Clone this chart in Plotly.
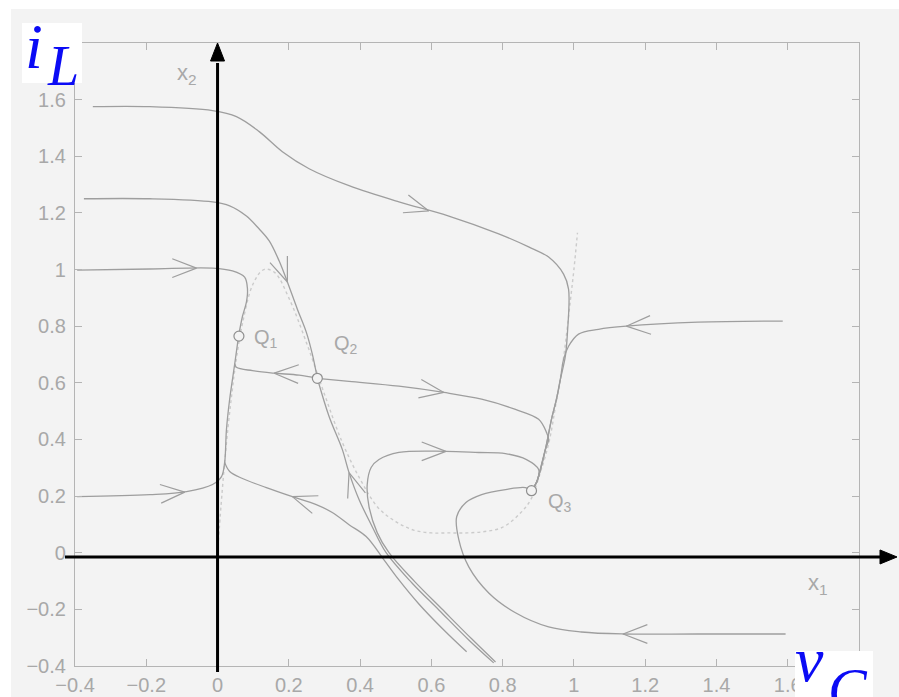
import math
import plotly.graph_objects as go

# ---------------- data ----------------
x_tick_vals = [-0.4, -0.2, 0.0, 0.2, 0.4, 0.6, 0.8, 1.0, 1.2, 1.4, 1.6]
x_tick_text = ["\u22120.4", "\u22120.2", "0", "0.2", "0.4", "0.6", "0.8", "1", "1.2", "1.4", "1.6"]
y_tick_vals = [-0.4, -0.2, 0.0, 0.2, 0.4, 0.6, 0.8, 1.0, 1.2, 1.4, 1.6]
y_tick_text = ["\u22120.4", "\u22120.2", "0", "0.2", "0.4", "0.6", "0.8", "1", "1.2", "1.4", "1.6"]

# dotted curve (diode characteristic)
h_x = [0.0, 0.01, 0.02, 0.03, 0.04, 0.05, 0.07, 0.10, 0.13, 0.16, 0.20, 0.25, 0.30, 0.35, 0.40,
       0.45, 0.50, 0.55, 0.60, 0.65, 0.70, 0.75, 0.80, 0.85, 0.88, 0.90, 0.93, 0.95, 0.97, 0.99,
       1.00, 1.01]
h_y = [0.0, 0.17, 0.32, 0.45, 0.56, 0.66, 0.81, 0.95, 1.00, 0.99, 0.90, 0.74, 0.56, 0.39, 0.26,
       0.16, 0.11, 0.08, 0.07, 0.07, 0.07, 0.075, 0.09, 0.14, 0.19, 0.26, 0.39, 0.53, 0.68, 0.89,
       1.00, 1.13]

# trajectories
traj_top_x = [-0.35, -0.19, -0.014, 0.053, 0.117, 0.182, 0.257, 0.369, 0.509, 0.649, 0.789, 0.873,
              0.929, 0.971, 0.985, 0.982, 0.976, 0.962, 0.951, 0.937, 0.920, 0.895, 0.881]
traj_top_y = [1.575, 1.575, 1.561, 1.540, 1.487, 1.416, 1.356, 1.296, 1.239, 1.189, 1.126, 1.080,
              1.044, 0.984, 0.931, 0.779, 0.694, 0.612, 0.542, 0.471, 0.365, 0.248, 0.219]

traj_125_x = [-0.375, -0.19, -0.014, 0.034, 0.081, 0.117, 0.145, 0.173, 0.196, 0.224, 0.249, 0.266, 0.280]
traj_125_y = [1.25, 1.25, 1.239, 1.225, 1.189, 1.143, 1.101, 1.030, 0.956, 0.860, 0.779, 0.701, 0.616]

traj_100_x = [-0.394, -0.19, -0.014, 0.042, 0.076, 0.084, 0.081, 0.070, 0.059]
traj_100_y = [0.998, 1.002, 1.005, 0.995, 0.973, 0.931, 0.885, 0.835, 0.765]

traj_020_x = [-0.394, -0.19, -0.087, -0.014, 0.011, 0.020, 0.025, 0.034, 0.048, 0.059]
traj_020_y = [0.198, 0.205, 0.216, 0.241, 0.269, 0.319, 0.435, 0.542, 0.665, 0.765]

traj_l3_x = [0.699, 0.635, 0.565, 0.509, 0.467, 0.417, 0.369, 0.322, 0.277, 0.210, 0.137, 0.070, 0.034, 0.020]
traj_l3_y = [-0.350, -0.273, -0.181, -0.096, -0.025, 0.057, 0.099, 0.142, 0.170, 0.198, 0.230, 0.262, 0.287, 0.319]

traj_sq2_x = [0.775, 0.705, 0.621, 0.545, 0.473, 0.434, 0.397, 0.369, 0.350, 0.313, 0.280]
traj_sq2_y = [-0.389, -0.308, -0.202, -0.106, 0.000, 0.092, 0.188, 0.283, 0.365, 0.481, 0.616]

traj_arc_x = [0.780, 0.713, 0.629, 0.554, 0.481, 0.448, 0.425, 0.420, 0.431, 0.453, 0.509, 0.641,
              0.733, 0.808, 0.867, 0.901, 0.898, 0.881]
traj_arc_y = [-0.386, -0.304, -0.198, -0.103, 0.000, 0.071, 0.163, 0.241, 0.301, 0.329, 0.354, 0.358,
              0.354, 0.350, 0.329, 0.294, 0.258, 0.219]

traj_uq2l_x = [0.280, 0.229, 0.159, 0.098, 0.053, 0.048]
traj_uq2l_y = [0.616, 0.627, 0.634, 0.643, 0.655, 0.668]

traj_uq2r_x = [0.280, 0.369, 0.509, 0.635, 0.741, 0.836, 0.901, 0.923, 0.929, 0.920, 0.909, 0.895, 0.881]
traj_uq2r_y = [0.616, 0.605, 0.588, 0.566, 0.542, 0.506, 0.471, 0.425, 0.400, 0.365, 0.312, 0.248, 0.219]

traj_right_x = [1.586, 1.348, 1.147, 1.069, 1.013, 0.985, 0.971, 0.962, 0.951, 0.937, 0.920, 0.895, 0.881]
traj_right_y = [0.818, 0.814, 0.800, 0.789, 0.772, 0.729, 0.683, 0.612, 0.542, 0.471, 0.365, 0.248, 0.219]

traj_br_x = [1.594, 1.348, 1.138, 1.021, 0.929, 0.836, 0.761, 0.705, 0.677, 0.671, 0.697, 0.741, 0.808, 0.864, 0.881]
traj_br_y = [-0.287, -0.287, -0.287, -0.280, -0.262, -0.212, -0.142, -0.050, 0.046, 0.127, 0.177, 0.205, 0.223, 0.230, 0.219]

trajectories = [
    (traj_top_x, traj_top_y), (traj_125_x, traj_125_y), (traj_100_x, traj_100_y),
    (traj_020_x, traj_020_y), (traj_l3_x, traj_l3_y), (traj_sq2_x, traj_sq2_y),
    (traj_arc_x, traj_arc_y), (traj_uq2l_x, traj_uq2l_y), (traj_uq2r_x, traj_uq2r_y),
    (traj_right_x, traj_right_y), (traj_br_x, traj_br_y),
]

# arrow tips on trajectories: x, y, direction (degrees, screen: 0 = right, 90 = up)
arrow_x = [0.593, 0.196, -0.059, -0.092, 0.159, 0.635, 0.210, 0.369, 0.641, 1.147, 1.138]
arrow_y = [1.207, 0.956, 1.005, 0.214, 0.634, 0.566, 0.198, 0.283, 0.358, 0.800, -0.287]
arrow_dir = [-17, -69, 0, 4, 178, -9, 161, 108, 0, 183, 180]

# equilibrium points
q_x = [0.060, 0.280, 0.881]
q_y = [0.765, 0.616, 0.219]
q_labels = ["Q<sub>1</sub>", "Q<sub>2</sub>", "Q<sub>3</sub>"]

# ---------------- layout constants ----------------
W, H = 899, 697
ML, MR, MT, MB = 75, 40, 43, 31
X0, X1 = -0.4, 1.8
Y0, Y1 = -0.4, 1.8
PW, PH = W - ML - MR, H - MT - MB
SX, SY = PW / (X1 - X0), PH / (Y1 - Y0)


def px_paper(px, py):
    """screen pixel -> paper coords"""
    return (px - ML) / PW, (MT + PH - py) / PH


def data_paper(x, y):
    return (x - X0) / (X1 - X0), (y - Y0) / (Y1 - Y0)


LINE = "#9e9e9e"
TXT = "#a8a8a8"
BG = "#f3f3f3"
BLUE = "#0b0bf5"

fig = go.Figure()

fig.add_trace(go.Scatter(x=h_x, y=h_y, mode="lines", line=dict(color="#cbcbcb", width=1.4, dash="dot"),
                         line_shape="spline", hoverinfo="skip", showlegend=False))

for tx, ty in trajectories:
    fig.add_trace(go.Scatter(x=tx, y=ty, mode="lines", line=dict(color=LINE, width=1.3),
                             line_shape="spline", hoverinfo="skip", showlegend=False))

# open chevron arrowheads
L_ARR, HALF = 26, 21
cx, cy = [], []
for ax_, ay_, d in zip(arrow_x, arrow_y, arrow_dir):
    pts = []
    for s in (1, -1):
        phi = math.radians(d + 180 + s * HALF)
        pts.append((ax_ + L_ARR * math.cos(phi) / SX, ay_ + L_ARR * math.sin(phi) / SY))
    cx += [pts[0][0], ax_, pts[1][0], None]
    cy += [pts[0][1], ay_, pts[1][1], None]
fig.add_trace(go.Scatter(x=cx, y=cy, mode="lines", line=dict(color=LINE, width=1.2),
                         hoverinfo="skip", showlegend=False))

fig.add_trace(go.Scatter(x=q_x, y=q_y, mode="markers",
                         marker=dict(symbol="circle", size=10, color=BG, line=dict(color="#8f8f8f", width=1.2)),
                         hoverinfo="skip", showlegend=False))

annotations = []
q_off = [(0.038, -0.01), (0.042, 0.12), (0.042, -0.04)]
for qx, qy, lab, (ox, oy) in zip(q_x, q_y, q_labels, q_off):
    annotations.append(dict(x=qx + ox, y=qy + oy, xref="x", yref="y", text=lab, showarrow=False,
                            xanchor="left", yanchor="middle",
                            font=dict(family="Liberation Sans", size=20, color=TXT)))

annotations.append(dict(x=-0.118, y=1.69, xref="x", yref="y", text="x<sub>2</sub>", showarrow=False,
                        xanchor="left", yanchor="middle", font=dict(family="Liberation Sans", size=22, color=TXT)))
annotations.append(dict(x=1.652, y=-0.11, xref="x", yref="y", text="x<sub>1</sub>", showarrow=False,
                        xanchor="left", yanchor="middle", font=dict(family="Liberation Sans", size=22, color=TXT)))


def lab(px, py, text, size, xanchor="left", yanchor="middle"):
    x, y = px_paper(px, py)
    return dict(x=x, y=y, xref="paper", yref="paper", text=text, showarrow=False,
                xanchor=xanchor, yanchor=yanchor, borderpad=0,
                font=dict(family="Liberation Serif", size=size, color=BLUE))


annotations += [lab(44, 47, "<i>i</i>", 64, xanchor="right"), lab(46, 66, "<i>L</i>", 56),
                lab(825, 659, "<i>v</i>", 64, xanchor="right"), lab(827, 688, "<i>C</i>", 58)]

shapes = []


def rect(px0, py0, px1, py1, color):
    x0, y0 = px_paper(px0, py1)
    x1, y1 = px_paper(px1, py0)
    return dict(type="rect", xref="paper", yref="paper", x0=x0, y0=y0, x1=x1, y1=y1,
                fillcolor=color, line=dict(width=0), layer="above")


shapes += [rect(0, 0, W, 9, "white"), rect(0, 0, 11, H, "white"),
           rect(22, 23, 82, 83, "white"), rect(795, 651, 873, H, "white")]

# black overlay axes (line + filled head)
_, hy_pp = data_paper(0, -0.015)
hx_tail, _ = px_paper(65, 0)
hx_base, _ = px_paper(880, 0)
hx_tip, _ = px_paper(897, 0)
dy7 = 7 / PH
shapes.append(dict(type="line", xref="paper", yref="paper", x0=hx_tail, x1=hx_base + 2 / PW,
                   y0=hy_pp, y1=hy_pp, line=dict(color="black", width=3), layer="above"))
shapes.append(dict(type="path", xref="paper", yref="paper", layer="above",
                   path=f"M{hx_base},{hy_pp - dy7} L{hx_tip},{hy_pp} L{hx_base},{hy_pp + dy7} Z",
                   fillcolor="black", line=dict(color="black", width=1)))

vx_pp, _ = data_paper(0, 0)
_, vy_tail = px_paper(0, 672)
_, vy_base = px_paper(0, 61)
_, vy_tip = px_paper(0, 43)
dx7 = 7 / PW
shapes.append(dict(type="line", xref="paper", yref="paper", x0=vx_pp, x1=vx_pp,
                   y0=vy_tail, y1=vy_base - 2 / PH, line=dict(color="black", width=3), layer="above"))
shapes.append(dict(type="path", xref="paper", yref="paper", layer="above",
                   path=f"M{vx_pp - dx7},{vy_base} L{vx_pp},{vy_tip} L{vx_pp + dx7},{vy_base} Z",
                   fillcolor="black", line=dict(color="black", width=1)))

axis_common = dict(showgrid=False, zeroline=False, showline=True, mirror="ticks", linecolor="#b4b4b4",
                   linewidth=1.2, ticks="inside", ticklen=7, tickcolor="#b4b4b4", tickwidth=1.2,
                   automargin=False,
                   tickfont=dict(family="Liberation Sans", size=20, color=TXT))

fig.update_layout(
    width=W, height=H, margin=dict(l=ML, r=MR, t=MT, b=MB),
    paper_bgcolor=BG, plot_bgcolor=BG,
    xaxis=dict(range=[X0, X1], tickvals=x_tick_vals, ticktext=x_tick_text, ticklabelstandoff=1, **axis_common),
    yaxis=dict(range=[Y0, Y1], tickvals=y_tick_vals, ticktext=y_tick_text, ticklabelstandoff=4, **axis_common),
    annotations=annotations, shapes=shapes, showlegend=False,
)

fig.write_html("out.html", config={"displayModeBar": False},
               post_script="document.body.style.margin='0';document.body.style.overflow='hidden';")
